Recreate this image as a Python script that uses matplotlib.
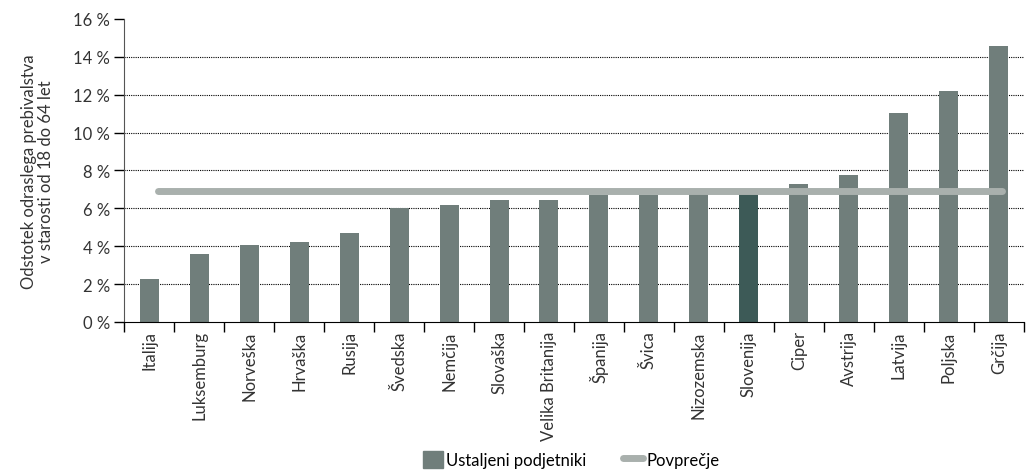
import numpy as np
from matplotlib import pyplot as plt
from matplotlib.patches import Patch
from matplotlib.lines import Line2D
import matplotlib.ticker as ticker

plt.rcParams['font.family'] = ['Lato', 'DejaVu Sans']

countries = ['Italija', 'Luksemburg', 'Norveška', 'Hrvaška', 'Rusija', 'Švedska',
             'Nemčija', 'Slovaška', 'Velika Britanija', 'Španija', 'Švica',
             'Nizozemska', 'Slovenija', 'Ciper', 'Avstrija', 'Latvija',
             'Poljska', 'Grčija']
values = [2.27, 3.59, 4.07, 4.22, 4.70, 6.02, 6.18, 6.44, 6.44, 6.70, 6.70,
          6.88, 6.88, 7.29, 7.76, 11.05, 12.2, 14.55]
average = 6.9
highlight = 'Slovenija'

bar_color = '#707e7b'
hl_color = '#3d5a57'
avg_color = '#a9b0ad'
text_color = '#333333'

fig = plt.figure(figsize=(10.26, 4.77), dpi=100)
ax = fig.add_axes([0.1209, 0.3229, 0.8771, 0.6353])

x = np.arange(len(countries))
colors = [hl_color if c == highlight else bar_color for c in countries]
ax.bar(x, values, width=0.38, color=colors, zorder=2)
ax.plot([0.18, 17.06], [average, average], color=avg_color, lw=5,
        solid_capstyle='round', zorder=3)

ax.set_xlim(-0.5, len(countries) - 0.5)
ax.set_ylim(0, 16)
ax.set_yticks(np.arange(0, 17, 2))
ax.yaxis.set_major_formatter(ticker.FuncFormatter(lambda v, _: f'{int(v)} %'))
for yv in range(2, 16, 2):
    ax.axhline(yv, color='black', lw=0.8, ls=(0, (1, 1)), zorder=1)

ax.set_xticks(x)
ax.set_xticklabels(countries, rotation=90)
ax.tick_params(axis='x', which='major', length=0, pad=6, labelsize=12, labelcolor=text_color)
ax.xaxis.set_minor_locator(ticker.FixedLocator(np.arange(-0.5, len(countries), 1)))
ax.tick_params(axis='x', which='minor', length=7, width=1, color='black')
ax.tick_params(axis='y', length=7, width=1, labelsize=12, labelcolor=text_color, pad=3)

for s in ['top', 'right']:
    ax.spines[s].set_visible(False)
ax.spines['left'].set_color('#555555')
ax.spines['bottom'].set_color('black')

ax.set_ylabel('Odstotek odraslega prebivalstva\nv starosti od 18 do 64 let',
              fontsize=12, color=text_color, labelpad=14, linespacing=1.05)

handles = [Patch(color=bar_color, label='Ustaljeni podjetniki'),
           Line2D([0], [0], color=avg_color, lw=5, solid_capstyle='round', label='Povprečje')]
fig.legend(handles=handles, loc='lower center', bbox_to_anchor=(0.557, -0.015), ncol=2,
           frameon=False, fontsize=12, handlelength=1.2, handleheight=1.2,
           handletextpad=0.2, columnspacing=2.2)

plt.savefig('out.png', dpi=100)
